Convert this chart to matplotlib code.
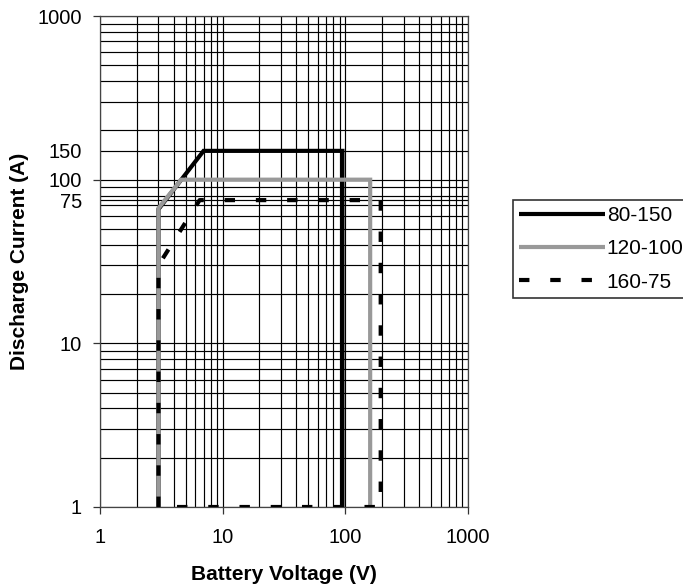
import matplotlib
matplotlib.use("Agg")
import matplotlib.pyplot as plt
import numpy as np

plt.rcParams['font.family'] = ['Liberation Sans', 'DejaVu Sans']

# Data
s1_label = "80-150"
s1_x = [3, 3, 7, 95, 95]
s1_y = [1, 66, 150, 150, 1]

s2_label = "120-100"
s2_x = [3, 3, 4.6, 160, 160]
s2_y = [1, 67, 100, 100, 1]

s3_label = "160-75"
s3_x = [3, 3, 6.5, 195, 195, 3]
s3_y = [1, 30, 75, 75, 1, 1]

y_tick_vals = [1, 10, 75, 100, 150, 1000]
y_tick_labels = ["1", "10", "75", "100", "150", "1000"]
x_tick_vals = [1, 10, 100, 1000]
x_tick_labels = ["1", "10", "100", "1000"]

fig = plt.figure(figsize=(6.83, 5.87), dpi=100)
ax = fig.add_axes([0.1464, 0.1363, 0.5384, 0.8364])
ax.set_xscale('log')
ax.set_yscale('log')
ax.set_xlim(1, 1000)
ax.set_ylim(1, 1000)

# gridlines
grid_x = [m * 10**e for e in range(0, 3) for m in range(1, 10)] + [1000]
grid_y = grid_x + [75, 150]
for gx in grid_x:
    ax.axvline(gx, color='black', lw=0.85, zorder=1)
for gy in grid_y:
    ax.axhline(gy, color='black', lw=0.85, zorder=1)

lw = 3.0
ax.plot(s1_x, s1_y, color='black', lw=lw, solid_capstyle='butt', solid_joinstyle='miter', zorder=3, label=s1_label)
ax.plot(s2_x, s2_y, color='#999999', lw=lw, solid_capstyle='butt', solid_joinstyle='miter', zorder=4, label=s2_label)
ax.plot(s3_x, s3_y, color='black', lw=lw, dashes=(2.5, 5), dash_capstyle='butt', zorder=5, label=s3_label)

ax.set_yticks(y_tick_vals)
ax.set_yticklabels(y_tick_labels)
ax.set_xticks(x_tick_vals)
ax.set_xticklabels(x_tick_labels)
ax.yaxis.set_minor_locator(matplotlib.ticker.NullLocator())
ax.xaxis.set_minor_locator(matplotlib.ticker.NullLocator())
for i, t in enumerate(ax.yaxis.get_major_ticks()):
    if y_tick_labels[i] in ("75", "150"):
        t.tick1line.set_visible(False)

ax.tick_params(axis='both', direction='out', length=5, width=0.9, colors='#333333', labelcolor='black', labelsize=14.5)
ax.tick_params(axis='x', pad=10)
ax.tick_params(axis='y', pad=8)

for s in ax.spines.values():
    s.set_color('#444444')
    s.set_linewidth(0.9)

ax.set_xlabel("Battery Voltage (V)", fontsize=15, fontweight='bold', labelpad=13)
ax.set_ylabel("Discharge Current (A)", fontsize=15, fontweight='bold', labelpad=6)

leg = fig.legend(loc='center left', bbox_to_anchor=(0.751, 0.576), fontsize=15,
                 handlelength=4.1, handletextpad=0.1, labelspacing=0.68,
                 borderpad=0.3, borderaxespad=0, frameon=True, fancybox=False)
leg.get_frame().set_edgecolor('black')
leg.get_frame().set_linewidth(1.2)

fig.savefig("out.png", dpi=100)
